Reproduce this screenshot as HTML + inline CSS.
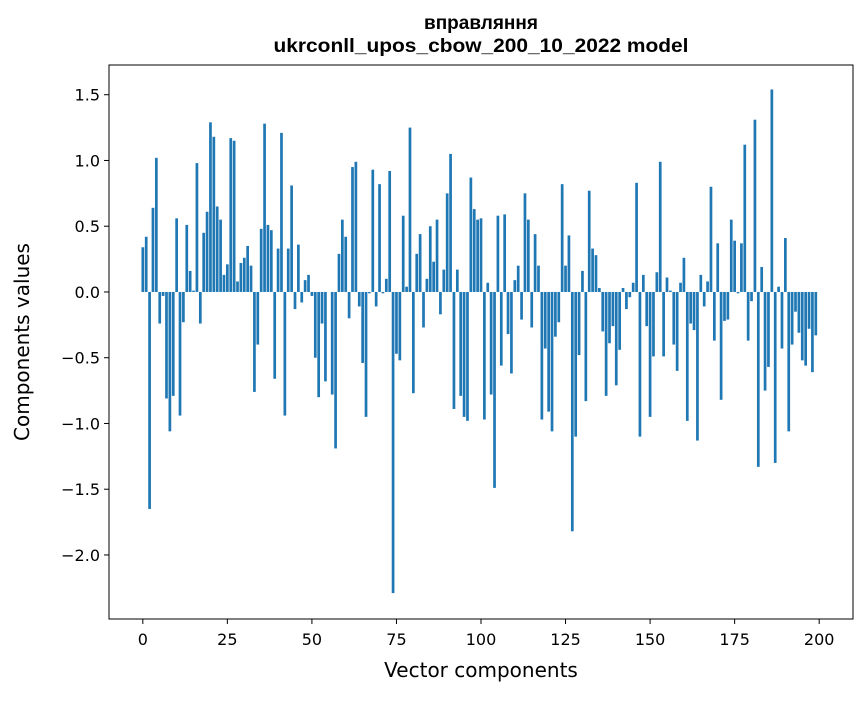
<!DOCTYPE html>
<html><head><meta charset="utf-8"><style>
body{margin:0;background:#fff;}
svg text{font-family:"DejaVu Sans","Liberation Sans",sans-serif;fill:#000;}
svg text.title{font-family:"Liberation Sans","DejaVu Sans",sans-serif;}
</style></head><body>
<svg id="chart" width="867" height="696" xmlns="http://www.w3.org/2000/svg">
<rect width="867" height="696" fill="#fff"/>
<text class="title" x="481" y="29" font-size="19" font-weight="bold" text-anchor="middle">вправляння</text>
<text class="title" x="481" y="52" font-size="19" font-weight="bold" text-anchor="middle" textLength="415" lengthAdjust="spacingAndGlyphs">ukrconll_upos_cbow_200_10_2022 model</text>
<g id="bars"></g>
<g id="axes"></g>
<text x="481" y="677" font-size="20" text-anchor="middle">Vector components</text>
<text transform="translate(29,342) rotate(-90)" font-size="20" text-anchor="middle">Components values</text>
</svg>
<script>
const values = [0.34,0.42,-1.65,0.64,1.02,-0.24,-0.03,-0.81,-1.06,-0.79,
0.56,-0.94,-0.23,0.51,0.16,0.01,0.98,-0.24,0.45,0.61,
1.29,1.18,0.65,0.55,0.13,0.21,1.17,1.15,0.08,0.22,
0.26,0.35,0.20,-0.76,-0.40,0.48,1.28,0.51,0.47,-0.66,
0.33,1.21,-0.94,0.33,0.81,-0.13,0.36,-0.08,0.09,0.13,
-0.03,-0.50,-0.80,-0.24,-0.68,0.0,-0.78,-1.19,0.29,0.55,
0.42,-0.20,0.95,0.99,-0.11,-0.54,-0.95,-0.01,0.93,-0.11,
0.82,-0.01,0.10,0.92,-2.29,-0.47,-0.52,0.58,0.04,1.25,
-0.77,0.29,0.44,-0.27,0.10,0.50,0.23,0.55,-0.17,0.17,
0.75,1.05,-0.89,0.17,-0.79,-0.95,-0.98,0.87,0.63,0.55,
0.56,-0.97,0.07,-0.78,-1.49,0.58,-0.56,0.59,-0.32,-0.62,
0.09,0.20,-0.21,0.75,0.55,-0.27,0.44,0.20,-0.97,-0.43,
-0.91,-1.06,-0.34,-0.23,0.82,0.20,0.43,-1.82,-1.10,-0.48,
0.16,-0.83,0.77,0.33,0.28,0.03,-0.30,-0.79,-0.39,-0.26,
-0.71,-0.44,0.03,-0.13,-0.04,0.07,0.83,-1.10,0.13,-0.26,
-0.95,-0.49,0.15,0.99,-0.49,0.11,0.01,-0.40,-0.60,0.07,
0.26,-0.98,-0.24,-0.29,-1.13,0.13,-0.11,0.08,0.80,-0.37,
0.37,-0.82,-0.22,-0.21,0.55,0.39,-0.01,0.37,1.12,-0.37,
-0.07,1.31,-1.33,0.19,-0.75,-0.57,1.54,-1.30,0.04,-0.43,
0.41,-1.06,-0.40,-0.15,-0.31,-0.52,-0.56,-0.28,-0.61,-0.33];
const xTicks = [0,25,50,75,100,125,150,175,200];
const yTicks = [-2.0,-1.5,-1.0,-0.5,0.0,0.5,1.0,1.5];
const yTickLabels = ["\u22122.0","\u22121.5","\u22121.0","\u22120.5","0.0","0.5","1.0","1.5"];

const L=109,R=853,T=65,B=619;
const xMin=-10,xMax=210;
const yMin=-2.487,yMax=1.726;
const xs=v=>L+(v-xMin)/(xMax-xMin)*(R-L);
const ys=v=>B-(v-yMin)/(yMax-yMin)*(B-T);
const NS="http://www.w3.org/2000/svg";
const bars=document.getElementById('bars');
const bw=(xs(0.8)-xs(0));
values.forEach((v,i)=>{
  const r=document.createElementNS(NS,'rect');
  const y0=ys(0),y1=ys(v);
  r.setAttribute('x',xs(i)-bw/2);
  r.setAttribute('y',Math.min(y0,y1));
  r.setAttribute('width',bw);
  r.setAttribute('height',Math.abs(y1-y0));
  r.setAttribute('fill','#1f77b4');
  
  
  bars.appendChild(r);
});
const axes=document.getElementById('axes');
const frame=document.createElementNS(NS,'rect');
frame.setAttribute('x',L);frame.setAttribute('y',T);
frame.setAttribute('width',R-L);frame.setAttribute('height',B-T);
frame.setAttribute('fill','none');frame.setAttribute('stroke','#000');frame.setAttribute('stroke-width','1');


axes.appendChild(frame);
xTicks.forEach(t=>{
  const x=xs(t);
  const l=document.createElementNS(NS,'line');
  l.setAttribute('x1',x);l.setAttribute('x2',x);l.setAttribute('y1',B);l.setAttribute('y2',B+5);
  l.setAttribute('stroke','#000');
  
  
  axes.appendChild(l);
  const tx=document.createElementNS(NS,'text');
  tx.setAttribute('x',x);tx.setAttribute('y',B+26);tx.setAttribute('font-size','16');tx.setAttribute('text-anchor','middle');
  tx.textContent=t;
  
  
  axes.appendChild(tx);
});
yTicks.forEach((t,i)=>{
  const y=ys(t);
  const l=document.createElementNS(NS,'line');
  l.setAttribute('x1',L-5);l.setAttribute('x2',L);l.setAttribute('y1',y);l.setAttribute('y2',y);
  l.setAttribute('stroke','#000');
  
  
  axes.appendChild(l);
  const tx=document.createElementNS(NS,'text');
  tx.setAttribute('x',L-9);tx.setAttribute('y',y+6);tx.setAttribute('font-size','16');tx.setAttribute('text-anchor','end');
  tx.textContent=yTickLabels[i];
  
  
  axes.appendChild(tx);
});
</script>
</body></html>
